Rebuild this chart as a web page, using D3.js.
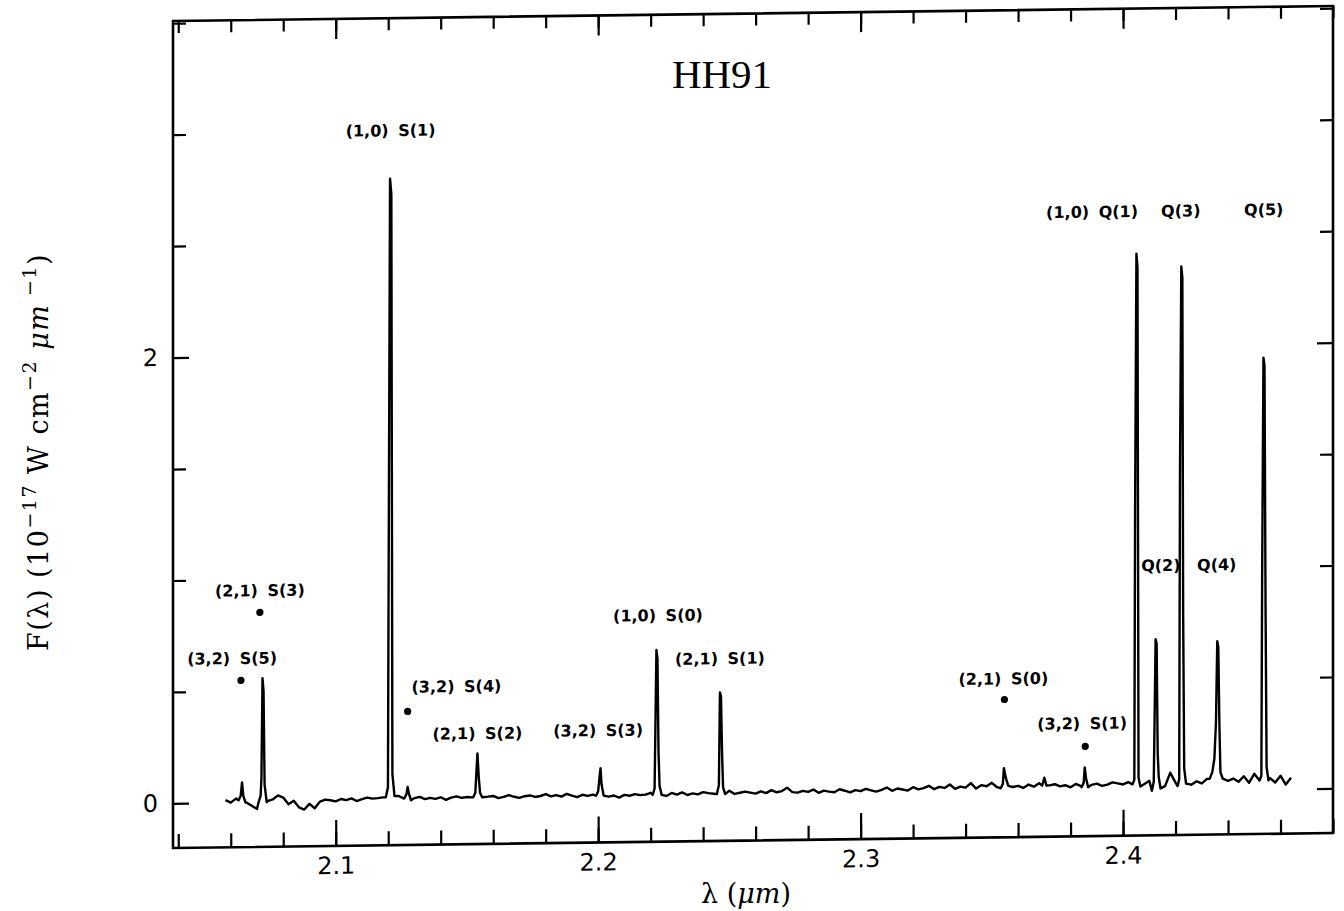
<!DOCTYPE html>
<html>
<head>
<meta charset="utf-8">
<script src="https://cdn.jsdelivr.net/npm/d3@7"></script>
<style>
  body { margin: 0; background: #fff; }
</style>
</head>
<body>
<svg id="chart" width="1344" height="911"></svg>
<script>
const baseStart = 2.058;
const baseStep = 0.002;
const baseFlux = [
  0.012, 0.0, 0.018, 0.01, 0.0, -0.015, -0.03, 0.0, 0.005, 0.012,
  0.03, 0.02, -0.01, 0.005, -0.025, -0.035, -0.01, -0.03, 0.0, 0.008,
  0.005, 0.0, 0.01, 0.005, 0.012, 0.0, 0.008, 0.015, 0.01, 0.012,
  0.015, 0.02, 0.02, 0.02, 0.008, 0.0, 0.01, 0.015, 0.005, 0.01,
  0.005, 0.012, 0.0, 0.01, 0.015, 0.008, 0.012, 0.01, 0.02, 0.01,
  0.012, 0.015, 0.005, 0.01, 0.018, 0.01, 0.005, 0.012, 0.015, 0.008,
  0.012, 0.02, 0.01, 0.015, 0.008, 0.02, 0.012, 0.005, 0.015, 0.01,
  0.015, 0.02, 0.02, 0.005, 0.01, 0.0, 0.012, 0.008, 0.015, 0.01,
  0.012, 0.02, 0.02, 0.015, 0.005, 0.018, 0.01, 0.02, 0.008, 0.015,
  0.01, 0.02, 0.015, 0.012, 0.02, 0.02, 0.025, 0.01, 0.015, 0.02,
  0.015, 0.01, 0.02, 0.012, 0.025, 0.015, 0.02, 0.035, 0.015, 0.012,
  0.02, 0.015, 0.025, 0.01, 0.02, 0.015, 0.012, 0.025, 0.018, 0.01,
  0.02, 0.015, 0.025, 0.018, 0.012, 0.02, 0.03, 0.015, 0.025, 0.02,
  0.015, 0.03, 0.02, 0.025, 0.035, 0.02, 0.03, 0.025, 0.04, 0.02,
  0.03, 0.025, 0.045, 0.02, 0.035, 0.03, 0.045, 0.025, 0.03, 0.02,
  0.025, 0.03, 0.02, 0.035, 0.025, 0.04, 0.05, 0.03, 0.035, 0.025,
  0.03, 0.02, 0.035, 0.025, 0.04, 0.03, 0.035, 0.025, 0.03, 0.04,
  0.035, 0.03, 0.04, 0.035, 0.02, 0.03, 0.045, 0.08, 0.03, 0.02,
  0.08, 0.035, 0.04, 0.03, 0.025, 0.04, 0.03, 0.05, 0.07, 0.1,
  0.09, 0.04, 0.05, 0.035, 0.06, 0.03, 0.07, 0.05, 0.04, 0.05,
  0.03, 0.06, 0.02, 0.05
];

// emission lines: [wavelength um, flux] samples across each line
const peaks = [
  [[2.0630, 0.01], [2.0638, 0.03], [2.0643, 0.09], [2.0648, 0.03], [2.0656, 0.0]],
  [[2.0706, 0.0], [2.0714, 0.03], [2.0717, 0.11], [2.0721, 0.556], [2.0725, 0.50], [2.0729, 0.08], [2.0737, 0.0]],
  [[2.1191, 0.015], [2.1199, 0.06], [2.1202, 1.14], [2.1207, 2.79], [2.1212, 2.72], [2.1216, 0.12], [2.1224, 0.02]],
  [[2.1262, 0.01], [2.1270, 0.03], [2.1274, 0.06], [2.1279, 0.03], [2.1287, 0.0]],
  [[2.1524, 0.01], [2.1532, 0.03], [2.1536, 0.12], [2.1540, 0.206], [2.1545, 0.10], [2.1550, 0.03], [2.1558, 0.01]],
  [[2.1992, 0.01], [2.2000, 0.03], [2.2005, 0.09], [2.2009, 0.133], [2.2013, 0.06], [2.2021, 0.01]],
  [[2.2208, 0.01], [2.2215, 0.04], [2.2218, 0.30], [2.2222, 0.66], [2.2226, 0.62], [2.2230, 0.2], [2.2234, 0.05], [2.2242, 0.01]],
  [[2.2452, 0.01], [2.2460, 0.05], [2.2464, 0.466], [2.2468, 0.45], [2.2472, 0.2], [2.2476, 0.04], [2.2484, 0.01]],
  [[2.3534, 0.02], [2.3542, 0.04], [2.3546, 0.11], [2.3551, 0.08], [2.3555, 0.06], [2.3563, 0.03]],
  [[2.3692, 0.03], [2.3700, 0.065], [2.3708, 0.03]],
  [[2.3842, 0.02], [2.3850, 0.04], [2.3854, 0.108], [2.3859, 0.06], [2.3867, 0.02]],
  [[2.4036, 0.03], [2.4043, 0.05], [2.4046, 1.29], [2.4051, 2.41], [2.4055, 2.35], [2.4059, 0.06], [2.4066, 0.02]],
  [[2.4110, 0.0], [2.4117, 0.04], [2.4120, 0.30], [2.4124, 0.68], [2.4128, 0.66], [2.4132, 0.17], [2.4136, 0.06], [2.4143, 0.01]],
  [[2.4208, 0.02], [2.4214, 0.05], [2.4217, 1.44], [2.4222, 2.35], [2.4226, 2.30], [2.4229, 0.8], [2.4233, 0.1], [2.4240, 0.03]],
  [[2.4330, 0.05], [2.4340, 0.08], [2.4348, 0.14], [2.4354, 0.30], [2.4359, 0.667], [2.4363, 0.64], [2.4367, 0.30], [2.4371, 0.08], [2.4380, 0.05]],
  [[2.4520, 0.04], [2.4527, 0.06], [2.4530, 0.95], [2.4535, 1.936], [2.4539, 1.9], [2.4543, 0.82], [2.4547, 0.1], [2.4554, 0.04]]
];

// line identifications, anchored in data units
const labelText = ["(1,0) S(1)", "(2,1) S(3)", "(3,2) S(5)", "(3,2) S(4)", "(2,1) S(2)", "(3,2) S(3)",
  "(1,0) S(0)", "(2,1) S(1)", "(2,1) S(0)", "(3,2) S(1)", "(1,0) Q(1)", "Q(3)", "Q(5)", "Q(2)", "Q(4)"];
const labelWave = [2.1209, 2.0711, 2.0605, 2.1460, 2.1540, 2.2000, 2.2228, 2.2464, 2.3544, 2.3844, 2.3882, 2.4220, 2.4536, 2.4144, 2.4357];
const labelFlux = [3.006, 0.950, 0.647, 0.508, 0.296, 0.303, 0.815, 0.618, 0.511, 0.306, 2.60, 2.60, 2.60, 1.01, 1.01];

const dotWave = [2.0711, 2.0639, 2.1274, 2.3548, 2.3856];
const dotFlux = [0.852, 0.548, 0.399, 0.418, 0.203];

const xMajor = [2.1, 2.2, 2.3, 2.4];
const xMinor = d3.range(2.04, 2.481, 0.02).map(v => +v.toFixed(2));
const yMajor = [0, 2];
const yMinor = [0.5, 1, 1.5, 2.5, 3, 3.5];

// build spectrum: continuum samples outside lines + line samples
const spans = peaks.map(p => [p[0][0], p[p.length - 1][0]]);
let spectrum = baseFlux.map((f, i) => [baseStart + i * baseStep, f])
  .filter(d => !spans.some(s => d[0] >= s[0] && d[0] <= s[1]));
peaks.forEach(p => spectrum = spectrum.concat(p));
spectrum.sort((a, b) => a[0] - b[0]);

const svg = d3.select("#chart");
const pLeft = 173, pRight = 1333, pTop = 21, pBottom = 848;

const x = d3.scaleLinear().domain([2.038, 2.48]).range([pLeft, pRight]);
const y = d3.scaleLinear().domain([-0.2, 3.51]).range([pBottom, pTop]);

// the scanned page is slightly sheared
const g = svg.append("g")
  .attr("transform", `translate(${pLeft},0) skewY(-0.74) translate(${-pLeft},0)`);

function strip(sel) {
  sel.select(".domain").remove();
  sel.selectAll("line").attr("stroke", "#000").attr("stroke-width", 2.2);
}

g.append("g").attr("transform", `translate(0,${pBottom})`)
  .call(d3.axisBottom(x).tickValues(xMinor).tickSize(-14).tickFormat(""))
  .call(strip);
g.append("g").attr("transform", `translate(0,${pBottom})`)
  .call(d3.axisBottom(x).tickValues(xMajor).tickSize(-26).tickPadding(11).tickFormat(d3.format(".1f")))
  .call(strip);
g.append("g").attr("transform", `translate(0,${pTop})`)
  .call(d3.axisTop(x).tickValues(xMinor).tickSize(-12).tickFormat(""))
  .call(strip);
g.append("g").attr("transform", `translate(0,${pTop})`)
  .call(d3.axisTop(x).tickValues(xMajor).tickSize(-20).tickFormat(""))
  .call(strip);

g.append("g").attr("transform", `translate(${pLeft},0)`)
  .call(d3.axisLeft(y).tickValues(yMinor).tickSize(-13).tickFormat(""))
  .call(strip);
g.append("g").attr("transform", `translate(${pLeft},0)`)
  .call(d3.axisLeft(y).tickValues(yMajor).tickSize(-16).tickPadding(15).tickFormat(d3.format("d")))
  .call(strip);
g.append("g").attr("transform", `translate(${pRight},0)`)
  .call(d3.axisRight(y).tickValues(yMinor).tickSize(-13).tickFormat(""))
  .call(strip);
g.append("g").attr("transform", `translate(${pRight},0)`)
  .call(d3.axisRight(y).tickValues(yMajor).tickSize(-16).tickFormat(""))
  .call(strip);

g.selectAll(".tick text")
  .attr("fill", "#000")
  .style("font-family", "'DejaVu Sans', sans-serif")
  .style("font-size", "24px");

g.append("rect")
  .attr("x", pLeft).attr("y", pTop)
  .attr("width", pRight - pLeft).attr("height", pBottom - pTop)
  .attr("fill", "none").attr("stroke", "#000").attr("stroke-width", 2.6);

g.append("path")
  .datum(spectrum)
  .attr("fill", "none")
  .attr("stroke", "#000")
  .attr("stroke-width", 2.4)
  .attr("stroke-linejoin", "round")
  .attr("d", d3.line().x(d => x(d[0])).y(d => y(d[1])));

g.selectAll("text.ident")
  .data(labelText)
  .enter()
  .append("text")
  .attr("class", "ident")
  .attr("x", (d, i) => x(labelWave[i]))
  .attr("y", (d, i) => y(labelFlux[i]))
  .attr("dy", "0.35em")
  .attr("text-anchor", "middle")
  .style("font-family", "'DejaVu Sans', sans-serif")
  .style("font-weight", "bold")
  .style("font-size", "16px")
  .style("word-spacing", "4px")
  .text(d => d);

g.selectAll("circle.mark")
  .data(dotWave)
  .enter()
  .append("circle")
  .attr("class", "mark")
  .attr("cx", d => x(d))
  .attr("cy", (d, i) => y(dotFlux[i]))
  .attr("r", 3.6)
  .attr("fill", "#000");

// title and axis titles
svg.append("text")
  .attr("x", 722).attr("y", 88)
  .attr("text-anchor", "middle")
  .style("font-family", "'Liberation Serif', 'Times New Roman', serif")
  .style("font-size", "41px")
  .text("HH91");

const xt = svg.append("text")
  .attr("x", 746).attr("y", 903)
  .attr("text-anchor", "middle")
  .style("font-family", "'DejaVu Serif', serif")
  .style("font-size", "27px");
xt.append("tspan").text("λ (");
xt.append("tspan").style("font-style", "italic").text("μm");
xt.append("tspan").text(")");

const yt = svg.append("text")
  .attr("transform", "translate(48,452) rotate(-90)")
  .attr("text-anchor", "middle")
  .style("font-family", "'DejaVu Serif', serif")
  .style("font-size", "27px")
  .style("letter-spacing", "1.5px");
yt.append("tspan").text("F(λ) (10");
yt.append("tspan").attr("dy", -12).style("font-size", "19px").text("−17");
yt.append("tspan").attr("dy", 12).text(" W cm");
yt.append("tspan").attr("dy", -12).style("font-size", "19px").text("−2");
yt.append("tspan").attr("dy", 12).text(" ");
yt.append("tspan").style("font-style", "italic").text("μm");
yt.append("tspan").attr("dy", -12).style("font-size", "19px").text(" −1");
yt.append("tspan").attr("dy", 12).text(")");
</script>
</body>
</html>
